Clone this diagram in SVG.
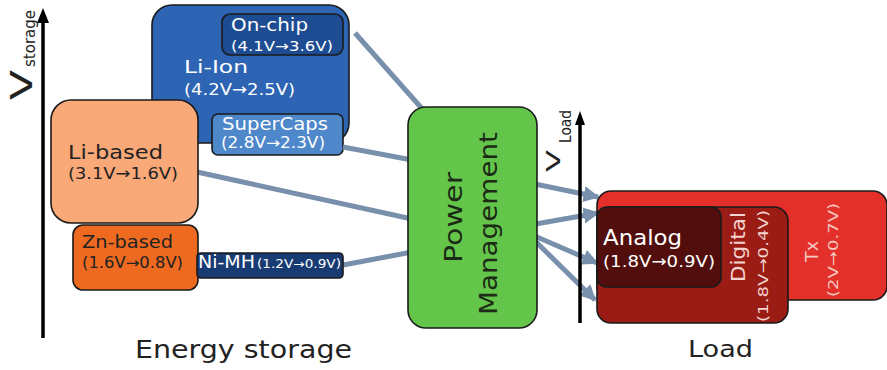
<svg xmlns="http://www.w3.org/2000/svg" width="887" height="370" viewBox="0 0 887 370">
  <style>
    text { font-family: "DejaVu Sans", Verdana, sans-serif; }
    .box { stroke: #1a1a1a; stroke-width: 1.6; }
    .wire { stroke: #7890ab; stroke-width: 5; fill: none; }
    .axis { stroke: #000; stroke-width: 3.5; }
    .wt { fill: #ffffff; }
    .dk { fill: #222222; }
  </style>
  <defs>
    <marker id="head" viewBox="0 0 10 10" refX="9" refY="5" markerWidth="3.2" markerHeight="3.6" orient="auto" markerUnits="strokeWidth">
      <path d="M0,0 L10,5 L0,10 Z" fill="#7890ab"/>
    </marker>
  </defs>

  <rect width="887" height="370" fill="#ffffff"/>

  <!-- storage voltage axis -->
  <g id="axis-storage">
    <line class="axis" x1="43" y1="338" x2="43" y2="20"/>
    <path d="M37,23 L43,8 L49,23 Z" fill="#000"/>
    <text transform="translate(32,100) rotate(-90)" font-size="31" textLength="30" lengthAdjust="spacingAndGlyphs" class="dk">V</text>
    <text transform="translate(35,67) rotate(-90)" font-size="16" textLength="57" lengthAdjust="spacingAndGlyphs" class="dk">storage</text>
  </g>

  <!-- energy storage technologies -->
  <g id="li-ion">
    <rect class="box" x="152" y="5" width="197" height="138" rx="20" fill="#2d64b4"/>
    <text x="184" y="73" font-size="18.5" textLength="64" lengthAdjust="spacingAndGlyphs" class="wt">Li-Ion</text>
    <text x="184" y="95" font-size="16" textLength="111" lengthAdjust="spacingAndGlyphs" class="wt">(4.2V→2.5V)</text>
  </g>
  <g id="on-chip">
    <rect class="box" x="222" y="14" width="121" height="41" rx="8" fill="#1e4c92"/>
    <text x="231" y="31" font-size="18.5" textLength="77" lengthAdjust="spacingAndGlyphs" class="wt">On-chip</text>
    <text x="231" y="51" font-size="14" textLength="102" lengthAdjust="spacingAndGlyphs" class="wt">(4.1V→3.6V)</text>
  </g>
  <g id="supercaps">
    <rect class="box" x="212" y="114" width="131" height="41" rx="6" fill="#4e87ca"/>
    <text x="222" y="130" font-size="17.5" textLength="106" lengthAdjust="spacingAndGlyphs" class="wt">SuperCaps</text>
    <text x="221" y="148" font-size="15" textLength="104" lengthAdjust="spacingAndGlyphs" class="wt">(2.8V→2.3V)</text>
  </g>

  <!-- connectors: storage to power management, power management to loads -->
  <g id="connectors">
    <line class="wire" x1="355" y1="33" x2="425" y2="112"/>
    <line class="wire" x1="343" y1="147" x2="412" y2="160"/>
    <line class="wire" x1="197" y1="172" x2="412" y2="219"/>
    <line class="wire" x1="343" y1="265" x2="412" y2="252"/>
    <line class="wire" x1="530" y1="183" x2="598" y2="197" marker-end="url(#head)"/>
    <line class="wire" x1="530" y1="225" x2="598" y2="213" marker-end="url(#head)"/>
    <line class="wire" x1="530" y1="234" x2="597" y2="263" marker-end="url(#head)"/>
    <line class="wire" x1="530" y1="236" x2="595" y2="300" marker-end="url(#head)"/>
  </g>

  <g id="li-based">
    <rect class="box" x="51" y="100" width="147" height="123" rx="20" fill="#f9a878"/>
    <text x="68" y="159" font-size="19.5" textLength="95" lengthAdjust="spacingAndGlyphs" class="dk">Li-based</text>
    <text x="68" y="179" font-size="16" textLength="110" lengthAdjust="spacingAndGlyphs" class="dk">(3.1V→1.6V)</text>
  </g>
  <g id="zn-based">
    <rect class="box" x="73" y="225" width="125" height="65" rx="10" fill="#ee6a20"/>
    <text x="82" y="248" font-size="18" textLength="91" lengthAdjust="spacingAndGlyphs" class="dk">Zn-based</text>
    <text x="82" y="268" font-size="15" textLength="101" lengthAdjust="spacingAndGlyphs" class="dk">(1.6V→0.8V)</text>
  </g>
  <g id="ni-mh">
    <rect class="box" x="197" y="253" width="146" height="25" rx="4" fill="#173b72"/>
    <text x="198" y="268" font-size="18" textLength="57" lengthAdjust="spacingAndGlyphs" class="wt">Ni-MH</text>
    <text x="257" y="268" font-size="11.5" textLength="84" lengthAdjust="spacingAndGlyphs" class="wt">(1.2V→0.9V)</text>
  </g>

  <text x="135" y="358" font-size="24.5" textLength="217" lengthAdjust="spacingAndGlyphs" class="dk">Energy storage</text>

  <!-- converter -->
  <g id="power-management">
    <rect class="box" x="408" y="107" width="129" height="221" rx="18" fill="#63c64b" stroke-width="2"/>
    <text transform="translate(462,263) rotate(-90)" font-size="24" textLength="91" lengthAdjust="spacingAndGlyphs" fill="#1c2a16">Power</text>
    <text transform="translate(497,315) rotate(-90)" font-size="24" textLength="183" lengthAdjust="spacingAndGlyphs" fill="#1c2a16">Management</text>
  </g>

  <!-- load voltage axis -->
  <g id="axis-load">
    <line class="axis" x1="580" y1="323" x2="580" y2="122" stroke-width="3"/>
    <path d="M575,125 L580,111 L585,125 Z" fill="#000"/>
    <text transform="translate(560,172) rotate(-90)" font-size="20" textLength="22" lengthAdjust="spacingAndGlyphs" class="dk">V</text>
    <text transform="translate(571,143) rotate(-90)" font-size="15" textLength="33" lengthAdjust="spacingAndGlyphs" class="dk">Load</text>
  </g>

  <!-- loads -->
  <g id="tx">
    <rect class="box" x="597" y="191" width="290" height="109" rx="14" fill="#e3302a"/>
    <text transform="translate(818,262) rotate(-90)" font-size="17" textLength="21" lengthAdjust="spacingAndGlyphs" fill="#f6c8c0">Tx</text>
    <text transform="translate(838,297) rotate(-90)" font-size="14" textLength="94" lengthAdjust="spacingAndGlyphs" fill="#f6c8c0">(2V→0.7V)</text>
  </g>
  <g id="digital">
    <rect class="box" x="597" y="207" width="191" height="116" rx="14" fill="#9b1c14"/>
    <text transform="translate(745,282) rotate(-90)" font-size="20" textLength="70" lengthAdjust="spacingAndGlyphs" fill="#f4d4d0">Digital</text>
    <text transform="translate(768,322) rotate(-90)" font-size="14.5" textLength="112" lengthAdjust="spacingAndGlyphs" fill="#f4d4d0">(1.8V→0.4V)</text>
  </g>
  <g id="analog">
    <rect class="box" x="597" y="207" width="124" height="80" rx="10" fill="#520e0c"/>
    <text x="603" y="245" font-size="20.5" textLength="79" lengthAdjust="spacingAndGlyphs" class="wt">Analog</text>
    <text x="603" y="267" font-size="16" textLength="112" lengthAdjust="spacingAndGlyphs" class="wt">(1.8V→0.9V)</text>
  </g>

  <text x="688" y="357" font-size="23.5" textLength="65" lengthAdjust="spacingAndGlyphs" class="dk">Load</text>
</svg>
